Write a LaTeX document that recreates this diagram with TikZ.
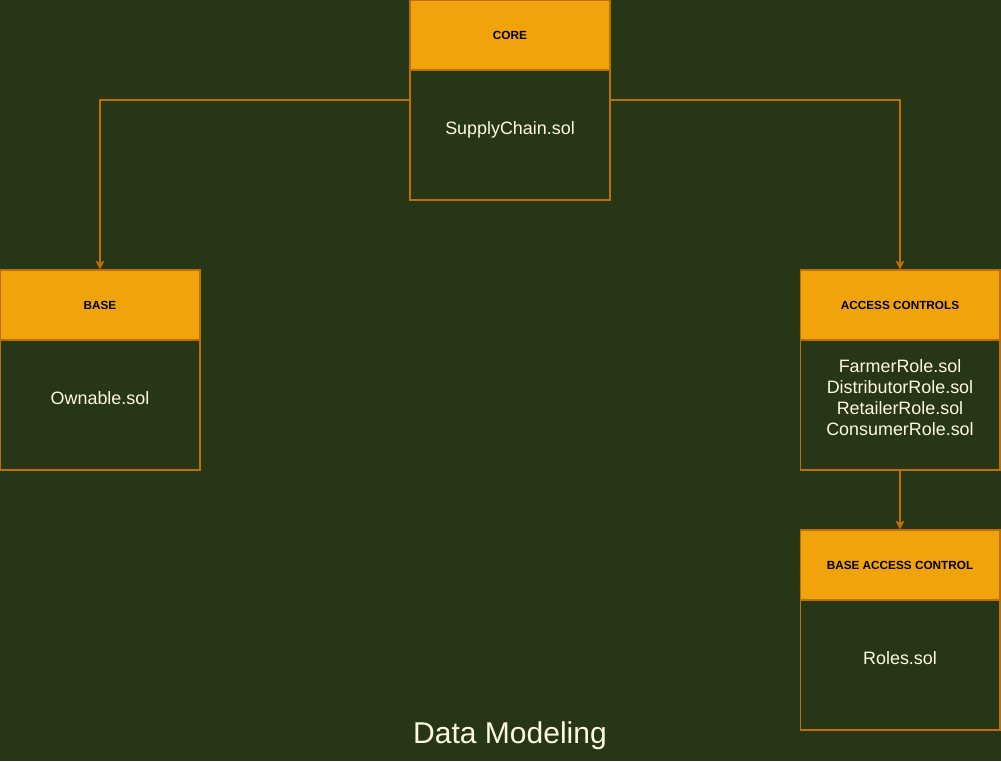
\documentclass[tikz,border=0pt]{standalone}
\usepackage{fontspec}
\setmainfont{Liberation Sans}
\usetikzlibrary{arrows.meta}
\definecolor{bgolive}{HTML}{283618}
\definecolor{headorange}{HTML}{F0A30A}
\definecolor{edgeorange}{HTML}{BD7000}
\definecolor{cream}{HTML}{FEFAE0}
\begin{document}
\begin{tikzpicture}
    [
    x=0.02cm, y=-0.02cm,
    head/.style={rectangle,draw=edgeorange,fill=headorange,line width=0.6pt,minimum width=4cm,minimum height=1.4cm,inner sep=0pt,font=\fontsize{6.7}{8}\selectfont\bfseries,text=black},
    body/.style={rectangle,draw=edgeorange,line width=0.6pt,minimum width=4cm,minimum height=2.6cm,inner sep=0pt,text depth=8.5pt,align=center,font=\fontsize{10.2}{11.9}\selectfont,text=cream},
    link/.style={draw=edgeorange,line width=0.6pt,-{Stealth[length=5pt,width=5pt,inset=1.2pt]}}
    ]
    \fill[bgolive] (0,0) rectangle (1001,761);
    \useasboundingbox (0,0) rectangle (1001,761);
    \node (corehead) at (510,35) [head] {CORE};
    \node (corebody) at (510,135) [body] {SupplyChain.sol};
    \node (basehead) at (100,305) [head] {BASE};
    \node (basebody) at (100,405) [body] {Ownable.sol};
    \node (acchead) at (900,305) [head] {ACCESS CONTROLS};
    \node (accbody) at (900,405) [body] {FarmerRole.sol\\DistributorRole.sol\\RetailerRole.sol\\ConsumerRole.sol};
    \node (bachead) at (900,565) [head] {BASE ACCESS CONTROL};
    \node (bacbody) at (900,665) [body] {Roles.sol};
    \node (title) at (510,736) [font=\fontsize{17.1}{20}\selectfont,text=cream] {Data Modeling};
    \draw [link] ([yshift=0.7cm]corebody.west) -| (basehead.north);
    \draw [link] ([yshift=0.7cm]corebody.east) -| (acchead.north);
    \draw [link] (accbody.south) to (bachead.north);
  \end{tikzpicture}
\end{document}
